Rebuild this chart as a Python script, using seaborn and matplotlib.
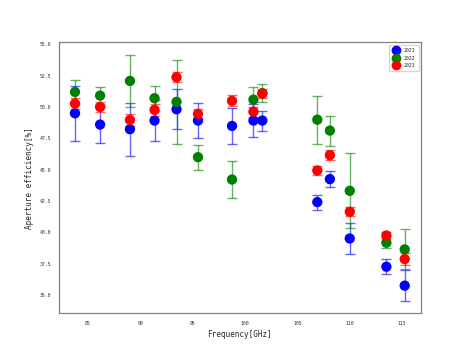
"""Aperture efficiency vs frequency, three measurement years"""

import numpy as np
import pandas as pd
import matplotlib
matplotlib.use('Agg')
import matplotlib.pyplot as plt
import seaborn as sns

FREQ = [83.75, 86.15, 89.0, 91.35, 93.45, 95.5, 98.75, 100.8, 101.65,
        106.9, 108.1, 110.0, 113.5, 115.25]

EFF_2021 = [49.50, 48.60, 48.23, 48.92, 49.82, 48.92, 48.49, 48.92, 48.92,
            42.42, 44.25, 39.52, 37.27, 35.76]
ERR_2021 = [2.20, 1.50, 2.10, 1.60, 1.60, 1.40, 1.45, 1.33, 0.80,
            0.60, 0.66, 1.20, 0.60, 1.22]

EFF_2022 = [51.20, 50.91, 52.08, 50.70, 50.41, 46.00, 44.22, 50.59, 51.10,
            48.99, 48.12, 43.32, 39.18, 38.65]
ERR_2022 = [0.95, 0.67, 2.10, 1.00, 3.32, 1.00, 1.50, 1.00, 0.72,
            1.92, 1.20, 3.00, 0.45, 1.60]

EFF_2023 = [50.27, 50.00, 48.97, 49.77, 52.37, 49.45, 50.49, 49.63, 51.07,
            44.94, 46.16, 41.65, 39.76, 37.88]
ERR_2023 = [0.43, 0.43, 0.45, 0.50, 0.40, 0.40, 0.45, 0.40, 0.35,
            0.37, 0.42, 0.35, 0.30, 0.45]

YEARS = ['2021', '2022', '2023']
COLORS = ['blue', 'green', 'red']


def build_df():
    frames = []
    for year, eff, err in zip(YEARS, [EFF_2021, EFF_2022, EFF_2023],
                              [ERR_2021, ERR_2022, ERR_2023]):
        frames.append(pd.DataFrame({'Freq': FREQ, 'Eff': eff, 'Err': err, 'Year': year}))
    return pd.concat(frames, ignore_index=True)


def plot():
    df = build_df()
    sns.set_style('white')
    plt.rcParams['font.family'] = ['DejaVu Sans Mono', 'DejaVu Sans']

    fig, ax = plt.subplots(figsize=(4.68, 3.52), dpi=100)

    for year, color in zip(YEARS, COLORS):
        sub = df[df['Year'] == year]
        ax.errorbar(sub['Freq'], sub['Eff'], yerr=sub['Err'], fmt='none',
                    ecolor=color, alpha=0.6, elinewidth=1.0, capsize=3.5,
                    capthick=1.0)
    sns.scatterplot(data=df, x='Freq', y='Eff', hue='Year', palette=COLORS,
                    s=55, edgecolor='none', legend=False, ax=ax, zorder=3)

    # legend entries with marker + bar
    leg_handles = []
    for year, color in zip(YEARS, COLORS):
        leg_handles.append(ax.errorbar([], [], yerr=[], fmt='o', color=color,
                                       ecolor=color, markersize=6, capsize=3))
    ax.legend(handles=leg_handles, labels=YEARS, loc='upper right',
              fontsize=3.5, handlelength=1.5, borderpad=0.7)

    ax.set_xlabel('Frequency[GHz]', fontsize=5.5, labelpad=3)
    ax.set_ylabel('Aperture efficiency[%]', fontsize=5.5)
    ax.tick_params(axis='both', labelsize=3.5, length=2, color='gray', colors='#333333')
    for sp in ax.spines.values():
        sp.set_color('gray')
        sp.set_linewidth(0.9)

    plt.savefig('out.png', dpi=100)
    plt.close()


if __name__ == '__main__':
    plot()
